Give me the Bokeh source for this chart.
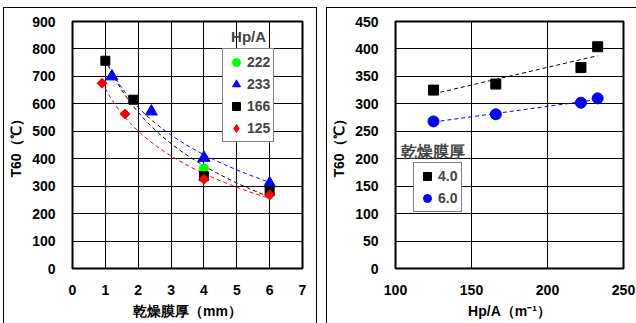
import numpy as np
from bokeh.plotting import figure
from bokeh.models import Legend, LegendItem, Label, FixedTicker, Range1d, Spacer
from bokeh.layouts import row, column
from bokeh.embed import file_html
from bokeh.resources import INLINE

# ---- Left chart: T60 vs dry film thickness, per Hp/A ----
hp_labels = ["222", "233", "166", "125"]
x_222 = [4.0, 6.0]
y_222 = [365, 302]
x_233 = [1.2, 2.4, 4.0, 6.0]
y_233 = [700, 572, 403, 310]
x_166 = [1.0, 1.85, 4.0, 6.0]
y_166 = [757, 615, 336, 282]
x_125 = [0.9, 1.6, 4.0, 6.0]
y_125 = [675, 563, 325, 268]
left_xticks = [0, 1, 2, 3, 4, 5, 6, 7]
left_yticks = [0, 100, 200, 300, 400, 500, 600, 700, 800, 900]

# ---- Right chart: T60 vs Hp/A, per film thickness ----
thick_labels = ["4.0", "6.0"]
hpa = [125, 166, 222, 233]
t_40 = [325, 336, 366, 404]
t_60 = [268, 281, 302, 310]
right_xticks = [100, 150, 200, 250]
right_yticks = [0, 50, 100, 150, 200, 250, 300, 350, 400, 450]

FONT = "Liberation Sans"
Y_TITLE = "T60（℃）"


def style(p, xticks, yticks):
    p.outline_line_color = "black"
    p.outline_line_width = 2
    p.background_fill_color = "white"
    p.border_fill_color = "white"
    for ax in (p.xaxis[0], p.yaxis[0]):
        ax.axis_line_color = None
        ax.major_tick_line_color = None
        ax.minor_tick_line_color = None
        ax.major_tick_out = 0
        ax.major_tick_in = 0
        ax.major_label_text_font = FONT
        ax.major_label_text_font_style = "bold"
        ax.major_label_text_font_size = "14px"
        ax.major_label_text_color = "black"
        ax.axis_label_text_font = FONT
        ax.axis_label_text_font_style = "bold"
        ax.axis_label_text_font_size = "14px"
        ax.axis_label_text_color = "black"
    p.xaxis[0].ticker = FixedTicker(ticks=xticks)
    p.yaxis[0].ticker = FixedTicker(ticks=yticks)
    p.xaxis[0].major_label_standoff = 16
    p.yaxis[0].major_label_standoff = 17
    p.xaxis[0].axis_label_standoff = 5
    p.yaxis[0].axis_label_standoff = 5
    p.xgrid[0].ticker = FixedTicker(ticks=xticks)
    p.ygrid[0].ticker = FixedTicker(ticks=yticks)
    for g in (p.xgrid[0], p.ygrid[0]):
        g.grid_line_color = "black"
        g.grid_line_width = 1
        g.grid_line_alpha = 1.0


def log_fit(xs, ys):
    b, a = np.polyfit(np.log(xs), ys, 1)
    xx = np.linspace(min(xs), max(xs), 60)
    return xx, a + b * np.log(xx)


def lin_fit(xs, ys):
    b, a = np.polyfit(xs, ys, 1)
    xx = np.array([min(xs), max(xs)], dtype=float)
    return xx, a + b * xx


H = 315

# ---------------- Left figure ----------------
p1 = figure(width=312, height=H, output_backend="svg", toolbar_location=None,
            x_range=Range1d(0, 7), y_range=Range1d(0, 900),
            min_border_left=68, min_border_right=312 - 68 - 228, min_border_top=13,
            min_border_bottom=H - 13 - 246,
            x_axis_label="乾燥膜厚（mm）", y_axis_label=Y_TITLE)
p1.frame_width = 228
p1.frame_height = 246
style(p1, left_xticks, left_yticks)

for xs, ys, col in ((x_233, y_233, "#0000FF"), (x_166, y_166, "black"), (x_125, y_125, "#FF0000")):
    fx, fy = log_fit(xs, ys)
    p1.line(fx, fy, line_color=col, line_width=1, line_dash="4 3")

r222 = p1.scatter(x_222, y_222, marker="circle", size=9, fill_color="#00FF00", line_color="#00FF00")
r233 = p1.scatter(x_233, y_233, marker="triangle", size=12, fill_color="#0000FF", line_color="#0000FF")
r166 = p1.scatter(x_166, y_166, marker="square", size=9, fill_color="black", line_color="black")
r125 = p1.scatter(x_125, y_125, marker="square", angle=np.pi / 4, size=7,
                  fill_color="#FF0000", line_color="#FF0000")
# legend-only glyph (no data point) so the legend shows a diamond
r125_key = p1.scatter([np.nan], [np.nan], marker="diamond", size=9,
                      fill_color="#FF0000", line_color="#FF0000")

leg1 = Legend(items=[LegendItem(label=hp_labels[0], renderers=[r222]),
                     LegendItem(label=hp_labels[1], renderers=[r233]),
                     LegendItem(label=hp_labels[2], renderers=[r166]),
                     LegendItem(label=hp_labels[3], renderers=[r125_key])],
              location=(150, 126))
p1.add_layout(leg1, "center")

p1.add_layout(Label(x=5.36, y=844, text="Hp/A", text_align="center", text_baseline="middle",
                    text_font=FONT, text_font_style="bold", text_font_size="15px"))

# ---------------- Right figure ----------------
W2 = 309
p2 = figure(width=W2, height=H, output_backend="svg", toolbar_location=None,
            x_range=Range1d(100, 250), y_range=Range1d(0, 450),
            min_border_left=68, min_border_right=W2 - 68 - 227, min_border_top=13,
            min_border_bottom=H - 13 - 246,
            x_axis_label="Hp/A（m⁻¹）", y_axis_label=Y_TITLE)
p2.frame_width = 227
p2.frame_height = 246
style(p2, right_xticks, right_yticks)

fx, fy = lin_fit(hpa, t_40)
p2.line(fx, fy, line_color="black", line_width=1, line_dash="4 3")
fx, fy = lin_fit(hpa, t_60)
p2.line(fx, fy, line_color="#0000FF", line_width=1, line_dash="4 3")

s40 = p2.scatter(hpa, t_40, marker="square", size=10, fill_color="black", line_color="black")
s60 = p2.scatter(hpa, t_60, marker="circle", size=11, fill_color="#0000FF", line_color="#0000FF")

leg2 = Legend(items=[LegendItem(label=thick_labels[0], renderers=[s40]),
                     LegendItem(label=thick_labels[1], renderers=[s60])],
              location=(18, 56))
p2.add_layout(leg2, "center")

p2.add_layout(Label(x=124.8, y=213.5, text="乾燥膜厚", text_align="center", text_baseline="middle",
                    text_font=FONT, text_font_style="bold", text_font_size="16px"))

for leg in (leg1, leg2):
    leg.border_line_color = "black"
    leg.border_line_width = 1
    leg.background_fill_color = "white"
    leg.background_fill_alpha = 1.0
    leg.padding = 3
    leg.spacing = 2
    leg.margin = 0
    leg.label_height = 20
    leg.glyph_height = 20
    leg.glyph_width = 20
    leg.label_standoff = 1
    leg.label_text_font = FONT
    leg.label_text_font_style = "bold"
    leg.label_text_font_size = "14px"
    leg.label_text_baseline = "middle"

p1.styles = {"border-top": "1px solid black", "border-left": "1px solid black",
             "border-right": "1px solid black", "box-sizing": "border-box"}
p2.styles = {"border-top": "1px solid black", "border-left": "1px solid black",
             "box-sizing": "border-box"}

layout = column(Spacer(width=10, height=7),
                row(Spacer(width=3, height=10), p1, Spacer(width=9, height=10), p2, spacing=0),
                spacing=0)

with open("out.html", "w") as f:
    f.write(file_html(layout, INLINE))
